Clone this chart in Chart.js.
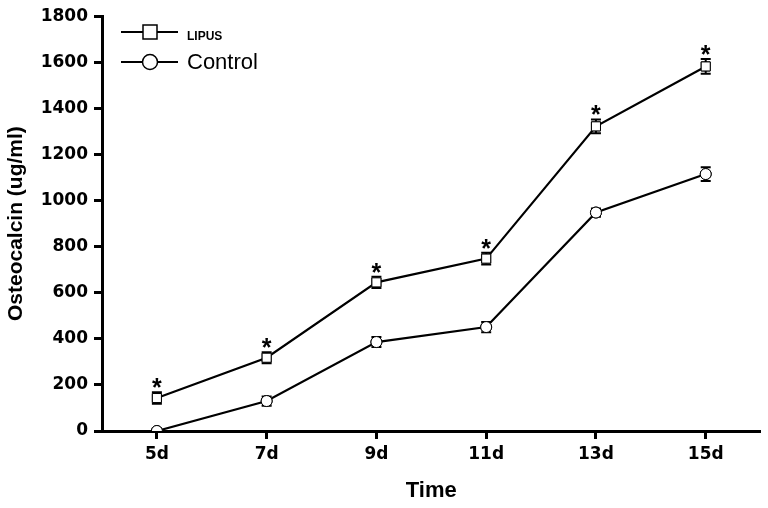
<!DOCTYPE html>
<html>
<head>
<meta charset="utf-8">
<script src="https://cdn.jsdelivr.net/npm/chart.js@4.4.1/dist/chart.umd.min.js"></script>
<style>
  html, body { margin: 0; padding: 0; background: #fff; }
  #wrap { width: 768px; height: 508px; }
</style>
</head>
<body>
<div id="wrap"><canvas id="c" width="768" height="508"></canvas></div>
<script>
// data
const days = ['5d', '7d', '9d', '11d', '13d', '15d'];
const lipus = [143, 318, 645, 748, 1322, 1582];
const lipusErr = [25, 24, 24, 26, 30, 32];
const control = [0, 130, 386, 451, 948, 1115];
const controlErr = [12, 20, 22, 22, 18, 30];
const yTicks = [0, 200, 400, 600, 800, 1000, 1200, 1400, 1600, 1800];

const FONT = "'Liberation Sans', Arial, sans-serif";
const TICK_FONT = "'DejaVu Sans', sans-serif";

/* error bars + significance stars */
const errorBars = {
  id: 'errorBars',
  afterDatasetsDraw(chart) {
    const { ctx, chartArea, scales: { x, y } } = chart;
    const sets = [[lipus, lipusErr], [control, controlErr]];
    ctx.save();
    ctx.strokeStyle = '#000';
    ctx.lineWidth = 2;
    sets.forEach(([vals, errs]) => {
      vals.forEach((v, i) => {
        const px = x.getPixelForValue(i);
        const top = y.getPixelForValue(v + errs[i]);
        const bot = y.getPixelForValue(Math.max(0, v - errs[i]));
        ctx.beginPath();
        ctx.moveTo(px, top); ctx.lineTo(px, bot);
        ctx.moveTo(px - 5, top); ctx.lineTo(px + 5, top);
        if (v > 0) { ctx.moveTo(px - 5, bot); ctx.lineTo(px + 5, bot); }
        ctx.stroke();
      });
    });
    // redraw markers on top of the bars, clipped to the plot
    ctx.save();
    ctx.beginPath();
    ctx.rect(chartArea.left, chartArea.top - 20, chartArea.width, chartArea.height + 20);
    ctx.clip();
    chart.data.datasets.forEach((ds, di) => {
      chart.getDatasetMeta(di).data.forEach(pt => pt.draw(ctx, chartArea));
    });
    ctx.restore();
    // stars over LIPUS
    ctx.fillStyle = '#000';
    ctx.font = 'bold 25px ' + FONT;
    ctx.textAlign = 'center';
    ctx.textBaseline = 'alphabetic';
    lipus.forEach((v, i) => {
      const px = x.getPixelForValue(i);
      const py = y.getPixelForValue(v + lipusErr[i]);
      ctx.fillText('*', px, py + 4);
    });
    ctx.restore();
  }
};

/* legend in the upper-left corner, line + marker */
const cornerLegend = {
  id: 'cornerLegend',
  afterDraw(chart) {
    const { ctx } = chart;
    ctx.save();
    ctx.strokeStyle = '#000';
    const rows = [
      { y: 32, ty: 37, label: 'LIPUS', font: 'bold 12px ', shape: 'rect' },
      { y: 62, ty: 63, label: 'Control', font: '22px ', shape: 'circle' }
    ];
    rows.forEach(r => {
      ctx.lineWidth = 2;
      ctx.beginPath();
      ctx.moveTo(121, r.y); ctx.lineTo(178, r.y);
      ctx.stroke();
      ctx.fillStyle = '#fff';
      ctx.lineWidth = 1.5;
      ctx.beginPath();
      if (r.shape === 'rect') ctx.rect(143, r.y - 7, 14, 14);
      else ctx.arc(150, r.y, 7.5, 0, Math.PI * 2);
      ctx.fill(); ctx.stroke();
      ctx.fillStyle = '#000';
      ctx.font = r.font + FONT;
      ctx.textBaseline = 'middle';
      ctx.fillText(r.label, 187, r.ty);
    });
    ctx.restore();
  }
};

new Chart(document.getElementById('c'), {
  type: 'line',
  data: {
    labels: days,
    datasets: [
      {
        label: 'LIPUS',
        data: lipus,
        borderColor: '#000',
        borderWidth: 2.2,
        pointStyle: 'rect',
        pointRadius: 6.4,
        pointBackgroundColor: '#fff',
        pointBorderColor: '#000',
        pointBorderWidth: 1,
        tension: 0
      },
      {
        label: 'Control',
        data: control,
        borderColor: '#000',
        borderWidth: 2.2,
        pointStyle: 'circle',
        pointRadius: 5.5,
        pointBackgroundColor: '#fff',
        pointBorderColor: '#000',
        pointBorderWidth: 1,
        tension: 0
      }
    ]
  },
  options: {
    responsive: false,
    animation: false,
    layout: { padding: { top: 10, right: 0, left: 0, bottom: 0 } },
    plugins: {
      legend: { display: false },
      tooltip: { enabled: false }
    },
    scales: {
      x: {
        type: 'category',
        offset: true,
        grid: { display: true, drawOnChartArea: false, drawTicks: true, tickLength: 8, tickColor: '#000', tickWidth: 3 },
        border: { display: true, color: '#000', width: 3 },
        ticks: { color: '#000', font: { family: TICK_FONT, size: 17, weight: 'bold' }, padding: 5 },
        title: { display: true, text: 'Time', color: '#000', font: { family: FONT, size: 22, weight: 'bold' }, padding: { top: 6 } },
        afterFit: s => { s.height = 77; }
      },
      y: {
        min: 0,
        max: 1800,
        afterBuildTicks: s => { s.ticks = yTicks.map(v => ({ value: v })); },
        grid: { display: true, drawOnChartArea: false, drawTicks: true, tickLength: 8, tickColor: '#000', tickWidth: 3 },
        border: { display: true, color: '#000', width: 3 },
        ticks: { color: '#000', font: { family: TICK_FONT, size: 17, weight: 'bold' }, padding: 6, callback: v => String(v) },
        title: { display: true, text: 'Osteocalcin (ug/ml)', color: '#000', font: { family: FONT, size: 21, weight: 'bold' }, padding: { bottom: 2 } },
        afterFit: s => { s.width = 102; }
      }
    }
  },
  plugins: [errorBars, cornerLegend]
});
</script>
</body>
</html>
